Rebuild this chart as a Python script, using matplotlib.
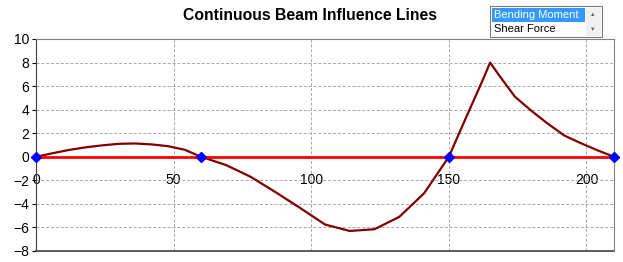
import matplotlib
matplotlib.use("Agg")
import matplotlib.pyplot as plt
from matplotlib.patches import Rectangle

# -----------------------------
# Data
# -----------------------------
beam_x = [0, 6, 12, 18, 24, 30, 36, 42, 48, 54, 60,
          69, 78, 87, 96, 105, 114, 123, 132, 141, 150,
          156, 162, 165, 168, 174, 180, 186, 192, 198, 204, 210]
moment = [0, 0.3, 0.58, 0.8, 0.97, 1.1, 1.13, 1.05, 0.9, 0.6, 0,
          -0.7, -1.7, -3.0, -4.35, -5.75, -6.3, -6.15, -5.1, -3.1, 0,
          3.2, 6.35, 8.0, 7.0, 5.1, 3.9, 2.8, 1.8, 1.15, 0.55, 0]
supports_x = [0, 60, 150, 210]
supports_y = [0, 0, 0, 0]
x_ticks = [0, 50, 100, 150, 200]
y_ticks = [-8, -6, -4, -2, 0, 2, 4, 6, 8, 10]
list_items = ["Bending Moment", "Shear Force"]

plt.rcParams["font.family"] = ["Liberation Sans", "DejaVu Sans"]

fig = plt.figure(figsize=(6.23, 2.62), dpi=100)
ax = fig.add_axes([36 / 623, 11 / 262, 578 / 623, 212 / 262])

# -----------------------------
# Lines
# -----------------------------
ax.plot(supports_x, supports_y, color="#FF0000", lw=2, zorder=3,
        marker="D", markersize=5, markerfacecolor="#0000FF",
        markeredgecolor="#0000FF", clip_on=False)
ax.plot(beam_x, moment, color="#800000", lw=1.6, zorder=2)

ax.set_xlim(0, 210)
ax.set_ylim(-8, 10)
ax.set_xticks(x_ticks)
ax.set_yticks(y_ticks)
ax.grid(True, color="#A8A8A8", linestyle=(0, (3, 2)), lw=0.7)
ax.set_axisbelow(True)

# axes like Excel: x axis crosses at 0
ax.spines["bottom"].set_position(("data", 0))
ax.spines["bottom"].set_color("#404040")
ax.spines["left"].set_color("#404040")
ax.spines["top"].set_color("#808080")
ax.spines["right"].set_color("#808080")
ax.plot([0, 210], [-8, -8], color="#404040", lw=1.2, clip_on=False, zorder=1)

ax.tick_params(axis="x", length=0, pad=12, labelsize=10)
ax.tick_params(axis="y", length=3, pad=2, labelsize=10)

fig.text(310 / 623, 1 - 16 / 262, "Continuous Beam Influence Lines",
         ha="center", va="center", fontsize=11.3, fontweight="bold")

# -----------------------------
# Listbox widget
# -----------------------------
W, H = 623, 262
def px(x0, y0, w, h, **kw):
    fig.patches.append(Rectangle((x0 / W, 1 - (y0 + h) / H), w / W, h / H,
                                 transform=fig.transFigure, **kw))

px(490, 6, 112, 31, facecolor="white", edgecolor="#7A7A7A", lw=0.8)
px(492, 8, 93, 14, facecolor="#3399FF", edgecolor="none")
px(586, 8, 15, 28, facecolor="#F0F0F0", edgecolor="none")
fig.text(494 / W, 1 - 15 / H, list_items[0], color="white", fontsize=8,
         va="center", ha="left")
fig.text(494 / W, 1 - 29 / H, list_items[1], color="black", fontsize=8,
         va="center", ha="left")
fig.text(593 / W, 1 - 15 / H, "\u25b2", color="#606060", fontsize=4,
         va="center", ha="center")
fig.text(593 / W, 1 - 29 / H, "\u25bc", color="#606060", fontsize=4,
         va="center", ha="center")

plt.savefig("out.png", dpi=100)
plt.close()
